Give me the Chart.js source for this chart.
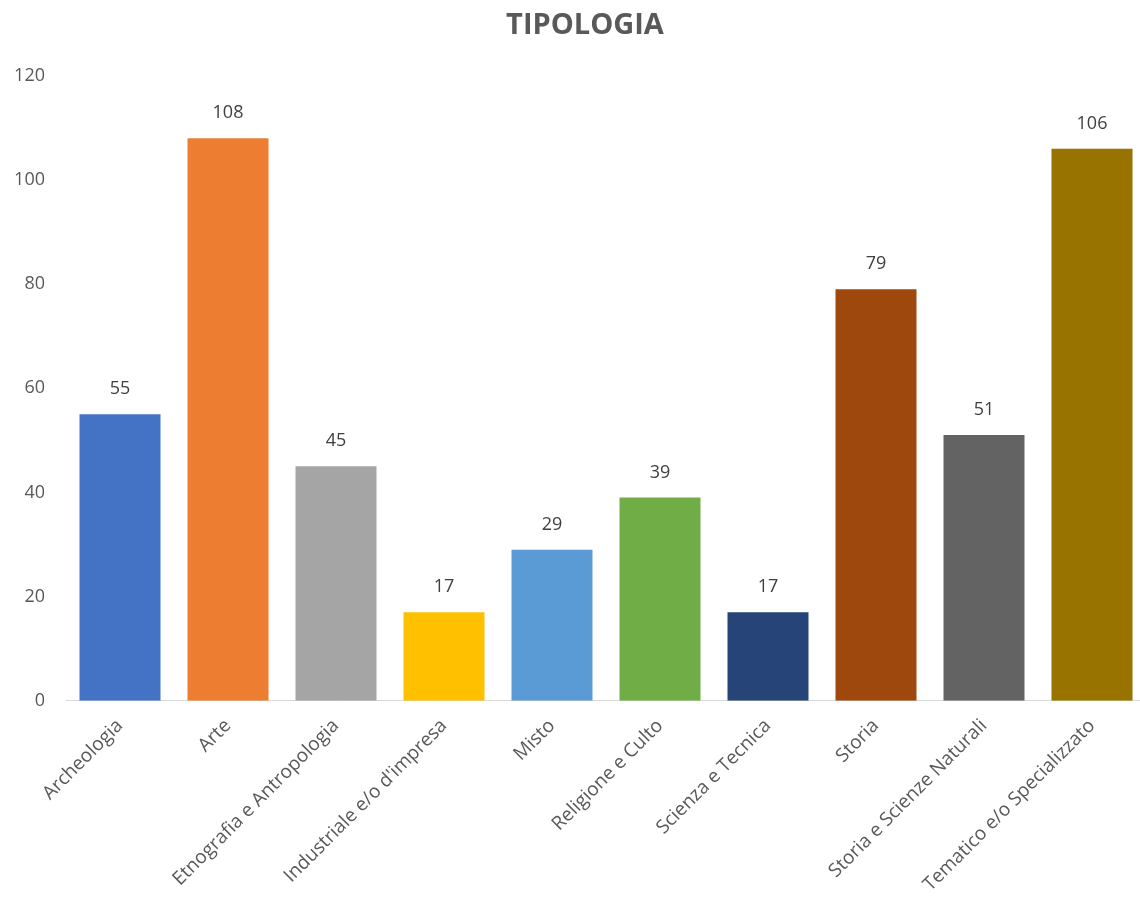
<!DOCTYPE html>
<html>
<head>
<meta charset="utf-8">
<script src="https://cdn.jsdelivr.net/npm/chart.js@4"></script>
<style>
html,body{margin:0;padding:0;background:#fff;overflow:hidden;}
#wrap{width:1140px;height:898px;overflow:hidden;}
</style>
</head>
<body>
<div id="wrap"><canvas id="c" width="1146" height="898"></canvas></div>
<script>
const categories = ["Archeologia","Arte","Etnografia e Antropologia","Industriale e/o d'impresa","Misto","Religione e Culto","Scienza e Tecnica","Storia","Storia e Scienze Naturali","Tematico e/o Specializzato"];
const values = [55,108,45,17,29,39,17,79,51,106];
const barColors = ["#4472c4","#ed7d31","#a5a5a5","#ffc000","#5b9bd5","#70ad47","#264478","#9e480e","#636363","#997300"];
const yTicks = [0,20,40,60,80,100,120];
const titleText = "TIPOLOGIA";

const FONT = "'Open Sans', sans-serif";

const dataLabels = {
  id: 'dataLabels',
  afterLayout(chart) {
    if (chart.titleBlock) { chart.titleBlock.left = 24; }
  },
  afterDatasetsDraw(chart) {
    const ctx = chart.ctx;
    ctx.save();
    ctx.font = "18px " + FONT;
    ctx.fillStyle = "#404040";
    ctx.textAlign = "center";
    ctx.textBaseline = "bottom";
    chart.getDatasetMeta(0).data.forEach((bar, i) => {
      ctx.fillText(String(values[i]), bar.x, bar.y - 16);
    });
    ctx.restore();
  }
};

new Chart(document.getElementById('c'), {
  type: 'bar',
  data: {
    labels: categories,
    datasets: [{
      data: values,
      backgroundColor: barColors,
      borderWidth: 0,
      barPercentage: 0.75,
      categoryPercentage: 1.0
    }]
  },
  options: {
    responsive: false,
    animation: false,
    layout: { padding: { left: 10, right: 0, top: 0, bottom: -12 } },
    plugins: {
      legend: { display: false },
      tooltip: { enabled: false },
      title: {
        display: true,
        text: titleText,
        color: "#595959",
        font: { family: FONT, size: 29, weight: 'bold' },
        padding: { top: 8, bottom: 33 }
      }
    },
    scales: {
      x: {
        grid: { display: false, drawTicks: false },
        border: { display: true, color: "#d9d9d9", width: 1 },
        afterFit(scale) { scale.paddingLeft = 0; scale.paddingRight = 0; },
        ticks: {
          color: "#595959",
          font: { family: FONT, size: 19 },
          minRotation: 45,
          maxRotation: 45,
          autoSkip: false,
          padding: 14
        }
      },
      y: {
        min: 0,
        max: 120,
        afterBuildTicks(scale) { scale.ticks = yTicks.map(v => ({ value: v })); },
        afterFit(scale) { scale.width = 56; },
        grid: { display: false, drawTicks: false },
        border: { display: false },
        ticks: {
          color: "#595959",
          font: { family: FONT, size: 18 },
          padding: 21
        }
      }
    }
  },
  plugins: [dataLabels]
});
</script>
</body>
</html>
